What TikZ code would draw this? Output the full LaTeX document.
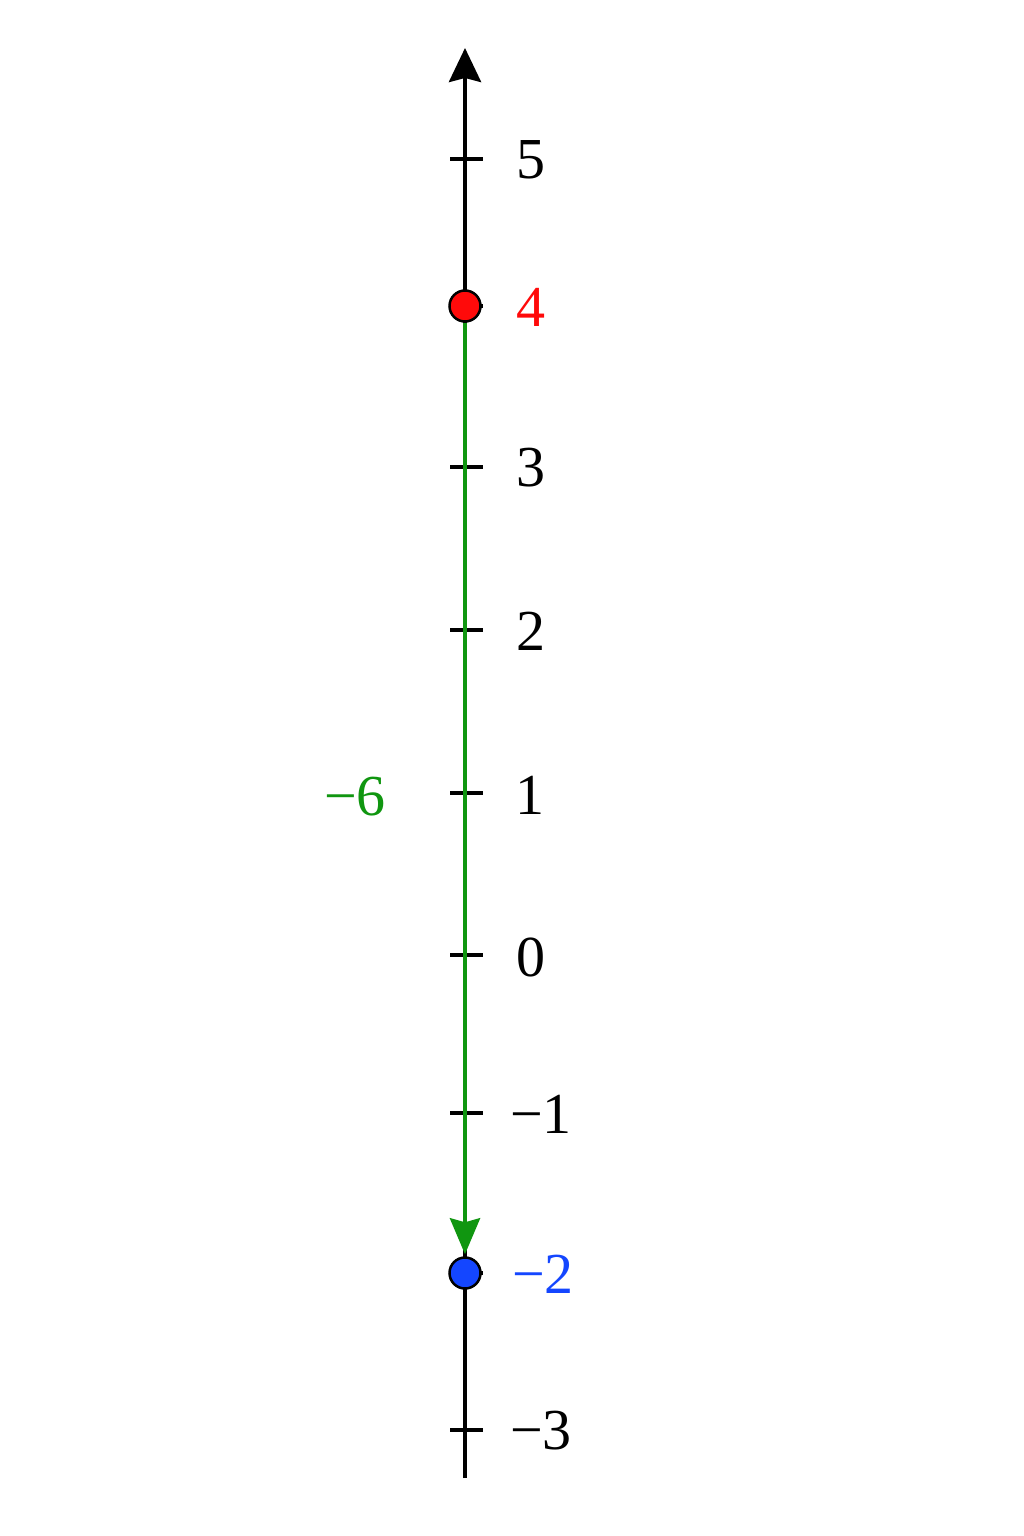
\documentclass[tikz,border=0pt]{standalone}
\usepackage{fontspec}
\setmainfont{Liberation Serif}
\usetikzlibrary{arrows.meta}
\definecolor{axgreen}{RGB}{16,150,16}
\definecolor{ptred}{RGB}{255,10,10}
\definecolor{ptblue}{RGB}{20,70,255}
\begin{document}
\begin{tikzpicture}[x=1pt,y=-1pt,
  lbl/.style={font=\fontsize{58}{60}\selectfont, inner sep=0pt},
  tick/.style={line width=4pt},
  dotmark/.style={circle, draw=black, line width=2.5pt, minimum size=31pt, inner sep=0pt}]
\useasboundingbox[fill=white] (0,0) rectangle (1024,1536);
\coordinate (bot) at (465,1478);
\coordinate (top) at (465,48);
\draw[line width=4pt, -{Stealth[length=34pt,width=32pt,inset=4pt]}] (bot) -- (top);
% ticks
\foreach \n/\y in {p5/159,p3/467,p2/630,p1/793,z0/955,m1/1113,m3/1430}{
  \coordinate (\n) at (465,\y);
  \draw[tick] ([xshift=-15pt]\n) -- ([xshift=18pt]\n);
}
\coordinate (p4) at (465,306);
\coordinate (m2) at (465,1273);
\draw[tick] ([xshift=-15pt]p4) -- ([xshift=18pt]p4);
\draw[tick] ([xshift=-15pt]m2) -- ([xshift=18pt]m2);
% labels
\node[lbl] (l5) at (531,160) {5};
\node[lbl] (l3) at (531,468) {3};
\node[lbl] (l2) at (531,631) {2};
\node[lbl] (l1) at (530,795) {1};
\node[lbl] (l0) at (531,957) {0};
\node[lbl] (lm1) at (541,1114) {−1};
\node[lbl] (lm3) at (541,1431) {−3};
% points
\node[dotmark, fill=ptred] (A) at (p4) {};
\node[dotmark, fill=ptblue] (B) at (m2) {};
\draw[axgreen, line width=4pt, -{Stealth[length=36pt,width=30pt,inset=4pt]}, shorten >=2pt] (A.south) -- (B.north);
\node[lbl, text=ptred] (l4) at (531,307) {4};
\node[lbl, text=ptblue] (lm2) at (543,1274) {−2};
\node[lbl, text=axgreen] (lm6) at (355,797) {−6};
\end{tikzpicture}
\end{document}
